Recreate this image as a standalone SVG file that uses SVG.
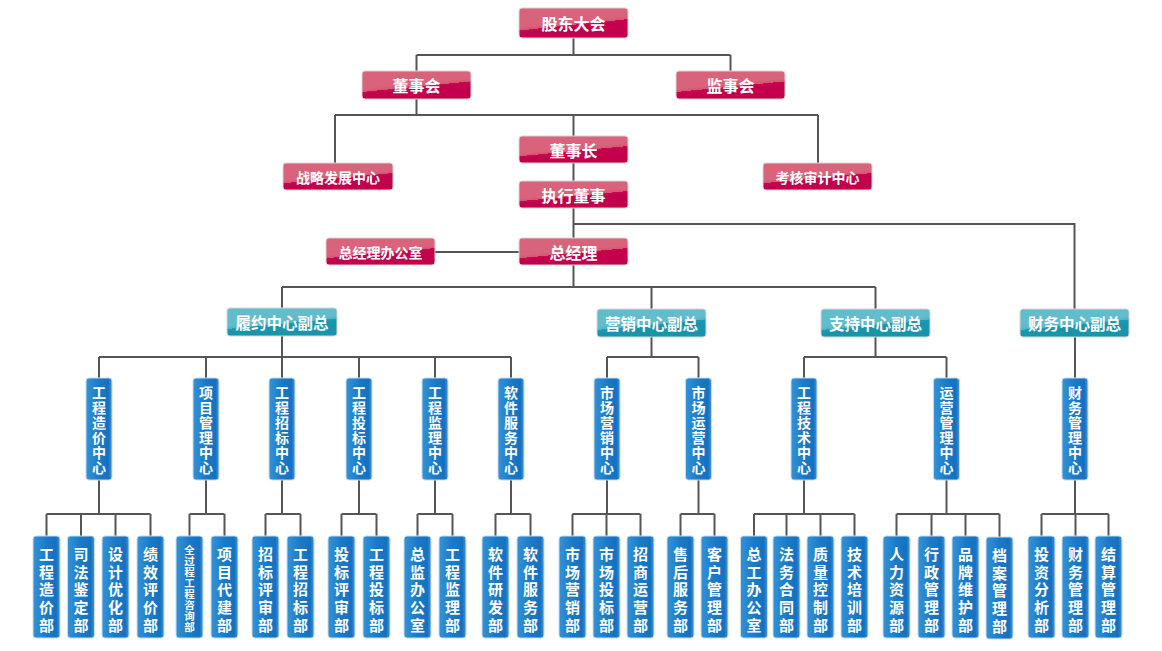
<svg xmlns="http://www.w3.org/2000/svg" width="1162" height="651" viewBox="0 0 1162 651">
<defs>
<linearGradient id="gp" x1="0.462" y1="0.46" x2="0.538" y2="0.66">
<stop offset="0" stop-color="#d8637b"/><stop offset="0.5" stop-color="#d3566f"/><stop offset="0.5" stop-color="#c90851"/><stop offset="1" stop-color="#c2004b"/>
</linearGradient>
<linearGradient id="gt" x1="0.462" y1="0.46" x2="0.538" y2="0.66">
<stop offset="0" stop-color="#62bccb"/><stop offset="0.5" stop-color="#4fb2c4"/><stop offset="0.5" stop-color="#1e9cb3"/><stop offset="1" stop-color="#1895ac"/>
</linearGradient>
<linearGradient id="gb" x1="0" y1="0" x2="1" y2="0">
<stop offset="0" stop-color="#3592d6"/><stop offset="0.5" stop-color="#1a7ac8"/><stop offset="0.86" stop-color="#1471c1"/><stop offset="1" stop-color="#4296d5"/>
</linearGradient>
<style>
.c{stroke:#555;stroke-width:2;fill:none}
.p rect{fill:url(#gp);stroke:#d6d6d6;stroke-width:1}
.t rect{fill:url(#gt);stroke:#d6d6d6;stroke-width:1}
.b rect{fill:url(#gb);stroke:#c9dcec;stroke-width:1}
text{font-family:"Noto Sans CJK SC","Noto Sans",sans-serif;font-weight:700;fill:#fff;text-anchor:middle;dominant-baseline:central}
.p text{font-size:16px}
.p text.s{font-size:14px}
.t text{font-size:15.5px}
.b text{font-size:14px}
.b text.l{font-size:15px}
.b text.x{font-size:10.5px}
</style>
</defs>
<rect width="1162" height="651" fill="#fff"/>
<g id="connectors" class="c">
<path d="M573.5 38V55M416.5 55H730.5M416.5 55V71M730.5 55V71"/>
<path d="M416.5 99V115M335 115H818M335 115V163M818 115V163M573.5 115V136"/>
<path d="M573.5 163V181M573.5 208V238M573.5 224H1074.5V309"/>
<path d="M435 252H519"/>
<path d="M573.5 265V287M282 287H875.5M282 287V308M651.5 287V309M875.5 287V309"/>
<path d="M282 336V357M99 357H511M99 357V378M206 357V378M282 357V378M359 357V378M435 357V378M511 357V378"/>
<path d="M651.5 337V357M607 357H698.5M607 357V378M698.5 357V378"/>
<path d="M875.5 337V357M804 357H946.5M804 357V378M946.5 357V378"/>
<path d="M1075 337V378"/>
<path d="M99 480V514M46.5 514H150.5M46.5 514V536M81 514V536M115.5 514V536M150.5 514V536"/>
<path d="M206 480V514M189.5 514H224.5M189.5 514V536M224.5 514V536"/>
<path d="M282 480V514M265.5 514H300.5M265.5 514V536M300.5 514V536"/>
<path d="M359 480V514M341.5 514H376.5M341.5 514V536M376.5 514V536"/>
<path d="M435 480V514M417.5 514H452.5M417.5 514V536M452.5 514V536"/>
<path d="M511 480V514M495.5 514H530.5M495.5 514V536M530.5 514V536"/>
<path d="M607 480V514M572.5 514H640.5M572.5 514V536M606.5 514V536M640.5 514V536"/>
<path d="M698.5 480V514M680.5 514H714.5M680.5 514V536M714.5 514V536"/>
<path d="M804 480V514M754 514H854.5M754 514V536M786.5 514V536M820.5 514V536M854.5 514V536"/>
<path d="M946.5 480V514M896.5 514H999.5M896.5 514V536M931.5 514V536M965.5 514V536M999.5 514V537"/>
<path d="M1075 480V514M1041.5 514H1108.5M1041.5 514V536M1075.5 514V536M1108.5 514V536"/>
</g>
<g id="n-gudong" class="p"><rect x="519" y="8" width="109" height="30" rx="3"/><text x="573.5" y="23">股东大会</text></g>
<g id="n-dongshihui" class="p"><rect x="362" y="71" width="109" height="28" rx="3"/><text x="416.5" y="85">董事会</text></g>
<g id="n-jianshihui" class="p"><rect x="676" y="71" width="109" height="28" rx="3"/><text x="730.5" y="85">监事会</text></g>
<g id="n-dongshizhang" class="p"><rect x="519" y="136" width="109" height="27" rx="3"/><text x="573.5" y="149.5">董事长</text></g>
<g id="n-zhanlue" class="p"><rect x="283" y="163" width="110" height="27" rx="3"/><text class="s" x="338" y="176.5">战略发展中心</text></g>
<g id="n-kaohe" class="p"><rect x="763" y="163" width="109" height="27" rx="3"/><text class="s" x="817.5" y="176.5">考核审计中心</text></g>
<g id="n-zhixing" class="p"><rect x="519" y="181" width="109" height="27" rx="3"/><text x="573.5" y="194.5">执行董事</text></g>
<g id="n-zjlbgs" class="p"><rect x="326" y="238" width="109" height="27" rx="3"/><text class="s" x="380.5" y="251.5">总经理办公室</text></g>
<g id="n-zongjingli" class="p"><rect x="519" y="238" width="109" height="27" rx="3"/><text x="573.5" y="251.5">总经理</text></g>
<g id="n-lvyue" class="t"><rect x="227" y="308" width="110" height="28" rx="3"/><text x="282" y="322">履约中心副总</text></g>
<g id="n-yingxiao" class="t"><rect x="597" y="309" width="109" height="28" rx="3"/><text x="651.5" y="323">营销中心副总</text></g>
<g id="n-zhichi" class="t"><rect x="821" y="309" width="109" height="28" rx="3"/><text x="875.5" y="323">支持中心副总</text></g>
<g id="n-caiwu" class="t"><rect x="1020" y="309" width="109" height="28" rx="3"/><text x="1074.5" y="323">财务中心副总</text></g>
<g id="c-zaojia" class="b"><rect x="86" y="378" width="26" height="102" rx="3"/><text x="99 99 99 99 99 99" y="392 407 422 437 452 467">工程造价中心</text></g>
<g id="c-xiangmu" class="b"><rect x="193" y="378" width="26" height="102" rx="3"/><text x="206 206 206 206 206 206" y="392 407 422 437 452 467">项目管理中心</text></g>
<g id="c-zhaobiao" class="b"><rect x="269" y="378" width="26" height="102" rx="3"/><text x="282 282 282 282 282 282" y="392 407 422 437 452 467">工程招标中心</text></g>
<g id="c-toubiao" class="b"><rect x="346" y="378" width="26" height="102" rx="3"/><text x="359 359 359 359 359 359" y="392 407 422 437 452 467">工程投标中心</text></g>
<g id="c-jianli" class="b"><rect x="422" y="378" width="26" height="102" rx="3"/><text x="435 435 435 435 435 435" y="392 407 422 437 452 467">工程监理中心</text></g>
<g id="c-ruanjian" class="b"><rect x="498" y="378" width="26" height="102" rx="3"/><text x="511 511 511 511 511 511" y="392 407 422 437 452 467">软件服务中心</text></g>
<g id="c-scyx" class="b"><rect x="594" y="378" width="26" height="102" rx="3"/><text x="607 607 607 607 607 607" y="392 407 422 437 452 467">市场营销中心</text></g>
<g id="c-scyy" class="b"><rect x="685.5" y="378" width="26" height="102" rx="3"/><text x="698.5 698.5 698.5 698.5 698.5 698.5" y="392 407 422 437 452 467">市场运营中心</text></g>
<g id="c-gcjs" class="b"><rect x="791" y="378" width="26" height="102" rx="3"/><text x="804 804 804 804 804 804" y="392 407 422 437 452 467">工程技术中心</text></g>
<g id="c-yygl" class="b"><rect x="933.5" y="378" width="26" height="102" rx="3"/><text x="946.5 946.5 946.5 946.5 946.5 946.5" y="392 407 422 437 452 467">运营管理中心</text></g>
<g id="c-cwgl" class="b"><rect x="1062" y="378" width="26" height="102" rx="3"/><text x="1075 1075 1075 1075 1075 1075" y="392 407 422 437 452 467">财务管理中心</text></g>
<g id="d1" class="b"><rect x="33" y="536" width="27" height="102" rx="3"/><text class="l" x="46.5 46.5 46.5 46.5 46.5" y="553 571 588 606 624">工程造价部</text></g>
<g id="d2" class="b"><rect x="67.5" y="536" width="27" height="102" rx="3"/><text class="l" x="81 81 81 81 81" y="553 571 588 606 624">司法鉴定部</text></g>
<g id="d3" class="b"><rect x="102" y="536" width="27" height="102" rx="3"/><text class="l" x="115.5 115.5 115.5 115.5 115.5" y="553 571 588 606 624">设计优化部</text></g>
<g id="d4" class="b"><rect x="137" y="536" width="27" height="102" rx="3"/><text class="l" x="150.5 150.5 150.5 150.5 150.5" y="553 571 588 606 624">绩效评价部</text></g>
<g id="d5" class="b"><rect x="176" y="536" width="27" height="102" rx="3"/><text class="x" x="189.5 189.5 189.5 189.5 189.5 189.5 189.5 189.5" y="549 560 571 582 593 604 615 626">全过程工程咨询部</text></g>
<g id="d6" class="b"><rect x="211" y="536" width="27" height="102" rx="3"/><text class="l" x="224.5 224.5 224.5 224.5 224.5" y="553 571 588 606 624">项目代建部</text></g>
<g id="d7" class="b"><rect x="252" y="536" width="27" height="102" rx="3"/><text class="l" x="265.5 265.5 265.5 265.5 265.5" y="553 571 588 606 624">招标评审部</text></g>
<g id="d8" class="b"><rect x="287" y="536" width="27" height="102" rx="3"/><text class="l" x="300.5 300.5 300.5 300.5 300.5" y="553 571 588 606 624">工程招标部</text></g>
<g id="d9" class="b"><rect x="328" y="536" width="27" height="102" rx="3"/><text class="l" x="341.5 341.5 341.5 341.5 341.5" y="553 571 588 606 624">投标评审部</text></g>
<g id="d10" class="b"><rect x="363" y="536" width="27" height="102" rx="3"/><text class="l" x="376.5 376.5 376.5 376.5 376.5" y="553 571 588 606 624">工程投标部</text></g>
<g id="d11" class="b"><rect x="404" y="536" width="27" height="102" rx="3"/><text class="l" x="417.5 417.5 417.5 417.5 417.5" y="553 571 588 606 624">总监办公室</text></g>
<g id="d12" class="b"><rect x="439" y="536" width="27" height="102" rx="3"/><text class="l" x="452.5 452.5 452.5 452.5 452.5" y="553 571 588 606 624">工程监理部</text></g>
<g id="d13" class="b"><rect x="482" y="536" width="27" height="102" rx="3"/><text class="l" x="495.5 495.5 495.5 495.5 495.5" y="553 571 588 606 624">软件研发部</text></g>
<g id="d14" class="b"><rect x="517" y="536" width="27" height="102" rx="3"/><text class="l" x="530.5 530.5 530.5 530.5 530.5" y="553 571 588 606 624">软件服务部</text></g>
<g id="d15" class="b"><rect x="559" y="536" width="27" height="102" rx="3"/><text class="l" x="572.5 572.5 572.5 572.5 572.5" y="553 571 588 606 624">市场营销部</text></g>
<g id="d16" class="b"><rect x="593" y="536" width="27" height="102" rx="3"/><text class="l" x="606.5 606.5 606.5 606.5 606.5" y="553 571 588 606 624">市场投标部</text></g>
<g id="d17" class="b"><rect x="627" y="536" width="27" height="102" rx="3"/><text class="l" x="640.5 640.5 640.5 640.5 640.5" y="553 571 588 606 624">招商运营部</text></g>
<g id="d18" class="b"><rect x="667" y="536" width="27" height="102" rx="3"/><text class="l" x="680.5 680.5 680.5 680.5 680.5" y="553 571 588 606 624">售后服务部</text></g>
<g id="d19" class="b"><rect x="701" y="536" width="27" height="102" rx="3"/><text class="l" x="714.5 714.5 714.5 714.5 714.5" y="553 571 588 606 624">客户管理部</text></g>
<g id="d20" class="b"><rect x="740.5" y="536" width="27" height="102" rx="3"/><text class="l" x="754 754 754 754 754" y="553 571 588 606 624">总工办公室</text></g>
<g id="d21" class="b"><rect x="773" y="536" width="27" height="102" rx="3"/><text class="l" x="786.5 786.5 786.5 786.5 786.5" y="553 571 588 606 624">法务合同部</text></g>
<g id="d22" class="b"><rect x="807" y="536" width="27" height="102" rx="3"/><text class="l" x="820.5 820.5 820.5 820.5 820.5" y="553 571 588 606 624">质量控制部</text></g>
<g id="d23" class="b"><rect x="841" y="536" width="27" height="102" rx="3"/><text class="l" x="854.5 854.5 854.5 854.5 854.5" y="553 571 588 606 624">技术培训部</text></g>
<g id="d24" class="b"><rect x="883" y="536" width="27" height="102" rx="3"/><text class="l" x="896.5 896.5 896.5 896.5 896.5" y="553 571 588 606 624">人力资源部</text></g>
<g id="d25" class="b"><rect x="918" y="536" width="27" height="102" rx="3"/><text class="l" x="931.5 931.5 931.5 931.5 931.5" y="553 571 588 606 624">行政管理部</text></g>
<g id="d26" class="b"><rect x="952" y="536" width="27" height="102" rx="3"/><text class="l" x="965.5 965.5 965.5 965.5 965.5" y="553 571 588 606 624">品牌维护部</text></g>
<g id="d27" class="b"><rect x="986" y="537" width="27" height="102" rx="3"/><text class="l" x="999.5 999.5 999.5 999.5 999.5" y="554 572 589 607 625">档案管理部</text></g>
<g id="d28" class="b"><rect x="1028" y="536" width="27" height="102" rx="3"/><text class="l" x="1041.5 1041.5 1041.5 1041.5 1041.5" y="553 571 588 606 624">投资分析部</text></g>
<g id="d29" class="b"><rect x="1062" y="536" width="27" height="102" rx="3"/><text class="l" x="1075.5 1075.5 1075.5 1075.5 1075.5" y="553 571 588 606 624">财务管理部</text></g>
<g id="d30" class="b"><rect x="1095" y="536" width="27" height="102" rx="3"/><text class="l" x="1108.5 1108.5 1108.5 1108.5 1108.5" y="553 571 588 606 624">结算管理部</text></g>
</svg>
